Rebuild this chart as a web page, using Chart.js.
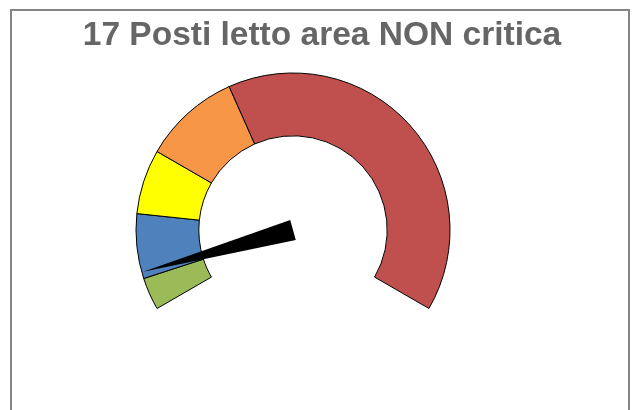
<!DOCTYPE html>
<html>
<head>
<meta charset="utf-8">
<script src="https://cdn.jsdelivr.net/npm/chart.js@4/dist/chart.umd.min.js"></script>
<style>
    body { margin: 0; background: #fff; }
    #wrap { position: relative; width: 634px; height: 410px; overflow: hidden; }
    #frame {
        position: absolute; left: 10px; top: 9px; width: 620px; height: 420px;
        border: 2px solid #858585; box-sizing: border-box;
    }
    #title {
        position: absolute; left: 10px; width: 624px; top: 16.6px;
        text-align: center; font: bold 33.5px "Liberation Sans", Arial, sans-serif;
        line-height: 33.5px; color: #666666; white-space: nowrap;
    }
    #box { position: absolute; left: 0; top: 0; width: 634px; height: 410px; }
</style>
</head>
<body>
<div id="wrap">
    <div id="frame"></div>
    <div id="box"><canvas id="myChart"></canvas></div>
    <div id="title">17 Posti letto area NON critica</div>
</div>
<script>
// gauge bands (share of the 240 degree arc) and needle position
const bandLabels = ["Verde", "Blu", "Giallo", "Arancione", "Rosso"];
const bandValues = [5, 10, 10, 15, 60];
const bandColors = ["#9BBB59", "#4F81BD", "#FFFF00", "#F79646", "#C0504D"];
const needleValue = 6;

// draws the needle from the arc geometry the library computed
const needlePlugin = {
    id: "needle",
    afterDatasetsDraw(chart) {
        const arcs = chart.getDatasetMeta(0).data;
        if (!arcs.length) return;
        const first = arcs[0];
        const last = arcs[arcs.length - 1];
        const total = bandValues.reduce((a, b) => a + b, 0);
        const angle = first.startAngle + (needleValue / total) * (last.endAngle - first.startAngle);
        const cx = first.x;
        const cy = first.y;
        const len = first.outerRadius - 1.5;
        const half = 10.3;
        const c = chart.ctx;
        c.save();
        c.beginPath();
        c.moveTo(cx + Math.cos(angle) * len, cy + Math.sin(angle) * len);
        c.lineTo(cx + Math.cos(angle + Math.PI / 2) * half, cy + Math.sin(angle + Math.PI / 2) * half);
        c.lineTo(cx + Math.cos(angle - Math.PI / 2) * half, cy + Math.sin(angle - Math.PI / 2) * half);
        c.closePath();
        c.fillStyle = "#000";
        c.fill();
        c.restore();
    },
};

const ctx = document.getElementById("myChart").getContext("2d");
const chart = new Chart(ctx, {
    type: "doughnut",
    data: {
        labels: bandLabels,
        datasets: [
            {
                data: bandValues,
                backgroundColor: bandColors,
                borderColor: "#000",
                borderWidth: 1,
                hoverOffset: 0,
            },
        ],
    },
    options: {
        responsive: true,
        maintainAspectRatio: false,
        animation: false,
        events: [],
        rotation: -120,
        circumference: 240,
        cutout: "60%",
        layout: {
            padding: { left: 135.5, right: 183.5, top: 72.5, bottom: 101 },
        },
        plugins: {
            legend: { display: false },
            tooltip: { enabled: false },
            title: { display: false },
        },
    },
    plugins: [needlePlugin],
});
</script>
</body>
</html>
